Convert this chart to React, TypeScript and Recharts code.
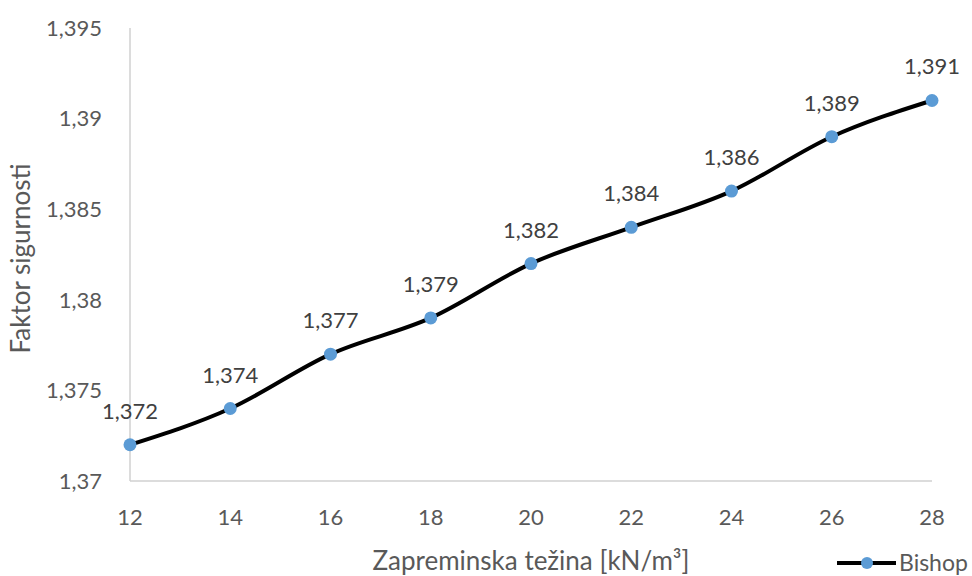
import React from 'react';
import {
    LineChart,
    Line,
    XAxis,
    YAxis,
    LabelList,
    Label,
} from 'recharts';

const weights = [12, 14, 16, 18, 20, 22, 24, 26, 28];
const bishop = [1.372, 1.374, 1.377, 1.379, 1.382, 1.384, 1.386, 1.389, 1.391];
const xTicks = [12, 14, 16, 18, 20, 22, 24, 26, 28];
const yTicks = [1.37, 1.375, 1.38, 1.385, 1.39, 1.395];

const data = weights.map((w, i) => ({ w, bishop: bishop[i] }));

const comma = (v: number) => String(v).replace('.', ',');

const FONT = 'Lato, "Open Sans", sans-serif';

const BishopLegend = () => (
    <svg x={834} y={549} width={140} height={28} style={{ overflow: 'visible' }}>
        <line x1={3} y1={14} x2={62} y2={14} stroke="#000" strokeWidth={4} />
        <circle cx={33} cy={14} r={6} fill="#5B9BD5" />
        <text x={65} y={22} fontSize={23} fill="#595959" fontFamily={FONT}>Bishop</text>
    </svg>
);

const YTitle = (props: any) => {
    const vb = props.viewBox || { y: 28, height: 453 };
    const cy = vb.y + vb.height / 2 + 4;
    return (
        <text
            x={30}
            y={cy}
            transform={`rotate(-90, 30, ${cy})`}
            textAnchor="middle"
            fill="#595959"
            fontSize={26}
            fontFamily={FONT}
        >
            Faktor sigurnosti
        </text>
    );
};

export default function App() {
    return (
        <div style={{ position: 'absolute', left: 0, top: 0, background: '#fff' }}>
            <LineChart
                width={972}
                height={576}
                data={data}
                margin={{ top: 28, right: 40, left: 0, bottom: 0 }}
                style={{ fontFamily: FONT }}
            >
                <XAxis
                    dataKey="w"
                    type="number"
                    domain={[12, 28]}
                    ticks={xTicks}
                    tickLine={false}
                    axisLine={{ stroke: '#d0d0d0', strokeWidth: 1.5 }}
                    tick={{ fill: '#595959', fontSize: 22 }}
                    tickMargin={22}
                    height={95}
                >
                    <Label
                        value="Zapreminska težina [kN/m³]"
                        position="insideBottom"
                        offset={6}
                        fill="#595959"
                        fontSize={26}
                    />
                </XAxis>
                <YAxis
                    type="number"
                    domain={[1.37, 1.395]}
                    ticks={yTicks}
                    tickFormatter={comma}
                    tickLine={false}
                    axisLine={{ stroke: '#d0d0d0', strokeWidth: 1.5 }}
                    tick={{ fill: '#595959', fontSize: 22 }}
                    tickMargin={22}
                    width={130}
                >
                    <Label content={<YTitle />} />
                </YAxis>
                <Line
                    type="monotone"
                    dataKey="bishop"
                    stroke="#000"
                    strokeWidth={4}
                    dot={{ r: 6.5, fill: '#5B9BD5', stroke: '#5B9BD5', strokeWidth: 0 }}
                    activeDot={false}
                    isAnimationActive={false}
                >
                    <LabelList
                        dataKey="bishop"
                        position="top"
                        offset={26}
                        formatter={(v: number) => comma(v)}
                        fill="#404040"
                        fontSize={22}
                    />
                </Line>
                <BishopLegend />
            </LineChart>
        </div>
    );
}
